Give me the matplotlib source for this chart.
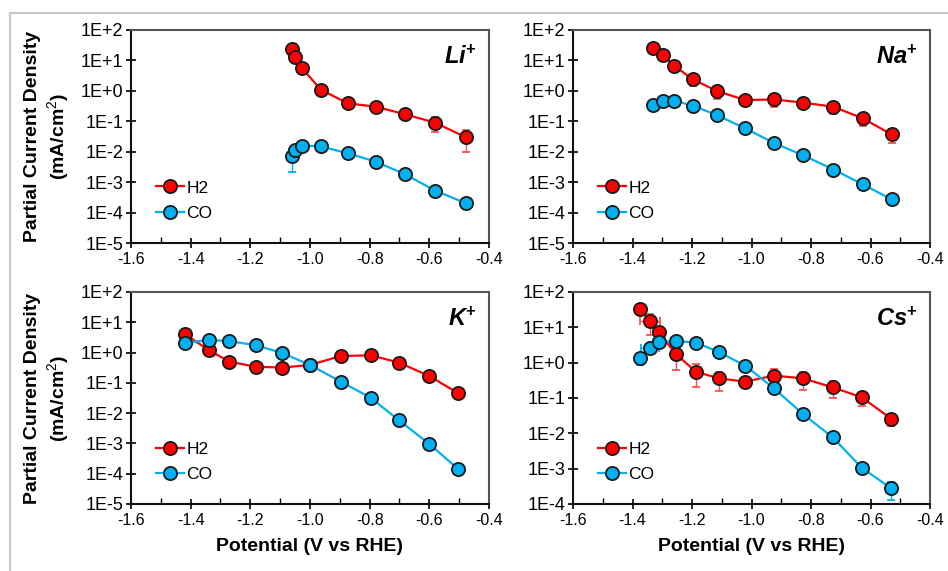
import matplotlib
matplotlib.use('Agg')
import matplotlib.pyplot as plt
from matplotlib.lines import Line2D
from matplotlib.ticker import FixedLocator, FuncFormatter, LogLocator, MultipleLocator, NullFormatter
import numpy as np

plt.rcParams['font.family'] = ['Liberation Sans', 'DejaVu Sans']
plt.rcParams['axes.unicode_minus'] = False
plt.rcParams['mathtext.fontset'] = 'custom'
plt.rcParams['mathtext.rm'] = 'Liberation Sans'
plt.rcParams['mathtext.it'] = 'Liberation Sans:italic'
plt.rcParams['mathtext.bf'] = 'Liberation Sans:bold'
plt.rcParams['mathtext.bfit'] = 'Liberation Sans:italic:bold'

# Li+
li_v = [-1.061, -1.050, -1.026, -0.964, -0.874, -0.779, -0.681, -0.581, -0.478]
li_h2 = [23, 12.6, 5.5, 1.1, 0.39, 0.30, 0.17, 0.09, 0.03]
li_h2_err = [2, 1.5, 0.8, 0.15, 0.06, 0.05, 0.04, 0.047, 0.02]
li_co = [0.0072, 0.0114, 0.016, 0.015, 0.0089, 0.0047, 0.0018, 0.00053, 0.000204]
li_co_err = [0.005, 0.002, 0.002, 0.001, 0.001, 0.0006, 0.0004, 0.00006, 0.00002]

# Na+
na_v = [-1.330, -1.299, -1.260, -1.198, -1.117, -1.022, -0.923, -0.826, -0.725, -0.626, -0.529]
na_h2 = [26, 15, 6.7, 2.4, 1.0, 0.50, 0.52, 0.41, 0.30, 0.125, 0.037]
na_h2_err = [2, 1.5, 1.0, 0.95, 0.48, 0.18, 0.23, 0.08, 0.12, 0.055, 0.017]
na_co = [0.35, 0.48, 0.47, 0.33, 0.16, 0.059, 0.019, 0.0076, 0.0026, 0.00085, 0.00027]
na_co_err = [0.03, 0.04, 0.04, 0.03, 0.02, 0.006, 0.002, 0.0008, 0.0003, 0.0001, 0.00009]

# K+
k_v = [-1.418, -1.339, -1.270, -1.182, -1.093, -1.000, -0.897, -0.796, -0.703, -0.601, -0.504]
k_h2 = [4.0, 1.2, 0.50, 0.34, 0.32, 0.39, 0.77, 0.81, 0.47, 0.17, 0.046]
k_h2_err = [0.2, 0.06, 0.03, 0.02, 0.02, 0.02, 0.04, 0.04, 0.03, 0.01, 0.003]
k_co = [2.1, 2.6, 2.4, 1.74, 0.97, 0.39, 0.11, 0.032, 0.0059, 0.00098, 0.000144]
k_co_err = [0.1, 0.13, 0.12, 0.09, 0.05, 0.02, 0.006, 0.002, 0.0003, 0.00005, 0.00001]

# Cs+
cs_v = [-1.375, -1.341, -1.311, -1.255, -1.186, -1.110, -1.022, -0.925, -0.827, -0.727, -0.630, -0.531]
cs_h2 = [32, 15, 7.4, 1.76, 0.55, 0.36, 0.29, 0.43, 0.36, 0.20, 0.105, 0.026]
cs_h2_err = [3, 9, 3, 1.14, 0.34, 0.2, 0.1, 0.23, 0.19, 0.1, 0.046, 0.01]
cs_h2_verr = [0, 0.035, 0.02, 0, 0, 0, 0, 0, 0, 0, 0, 0]
cs_co = [1.33, 2.55, 3.8, 4.1, 3.7, 2.0, 0.83, 0.19, 0.035, 0.0077, 0.00107, 0.00028]
cs_co_err = [0.48, 0.3, 0.3, 0.3, 0.3, 0.2, 0.08, 0.02, 0.003, 0.0007, 0.0001, 0.00015]
cs_co_verr = [0, 0.03, 0.02, 0, 0, 0, 0, 0, 0, 0, 0, 0]

red = '#FF0000'
blue = '#00B0F0'

fig = plt.figure(figsize=(9.48, 5.71), dpi=100)
W, H = 948, 571

def make_ax(left, top, right, bottom):
    return fig.add_axes([left / W, 1 - bottom / H, (right - left) / W, (bottom - top) / H])

panels = [
    (make_ax(131, 30, 489, 243), li_v, li_h2, li_h2_err, None, li_co, li_co_err, None, r'$\mathbfit{Li}^{\mathbf{+}}$', -5, True, False),
    (make_ax(573, 30, 930, 243), na_v, na_h2, na_h2_err, None, na_co, na_co_err, None, r'$\mathbfit{Na}^{\mathbf{+}}$', -5, False, False),
    (make_ax(131, 292, 489, 504), k_v, k_h2, k_h2_err, None, k_co, k_co_err, None, r'$\mathbfit{K}^{\mathbf{+}}$', -5, True, True),
    (make_ax(573, 292, 930, 504), cs_v, cs_h2, cs_h2_err, cs_h2_verr, cs_co, cs_co_err, cs_co_verr, r'$\mathbfit{Cs}^{\mathbf{+}}$', -4, False, True),
]

marker_style = dict(marker='o', ms=9.5, mec='#1a1a1a', mew=1.3)

for ax, v, h2, h2e, h2x, co, coe, cox, lab, ylow, ylab, xlab in panels:
    ax.errorbar(v, h2, yerr=h2e, xerr=h2x, ls='-', color=red, lw=1.6, mfc=red,
                ecolor='#ff5050', elinewidth=1, capsize=3, **marker_style)
    ax.errorbar(v, co, yerr=coe, xerr=cox, ls='-', color=blue, lw=1.6, mfc=blue,
                ecolor=blue, elinewidth=1, capsize=3, **marker_style)
    ax.set_yscale('log')
    ax.set_ylim(10.0 ** ylow, 100)
    ax.set_xlim(-1.6, -0.4)
    ax.yaxis.set_major_locator(FixedLocator([10.0 ** k for k in range(ylow, 3)]))
    ax.yaxis.set_major_formatter(FuncFormatter(lambda y, p: '1E%+d' % int(round(np.log10(y)))))
    ax.yaxis.set_minor_locator(LogLocator(base=10, subs=np.arange(2, 10)))
    ax.yaxis.set_minor_formatter(NullFormatter())
    ax.xaxis.set_major_locator(MultipleLocator(0.2))
    ax.xaxis.set_major_formatter(FuncFormatter(lambda x, p: '%.1f' % x))
    ax.xaxis.set_minor_locator(MultipleLocator(0.1))
    ax.tick_params(axis='y', which='major', direction='inout', length=7, width=1.2, labelsize=13, pad=2)
    ax.tick_params(axis='y', which='minor', direction='in', length=3, width=0.8)
    ax.tick_params(axis='x', which='major', direction='inout', length=7, width=1.2, labelsize=11.5, pad=3)
    ax.tick_params(axis='x', which='minor', direction='in', length=4, width=1)
    for side in ['left', 'bottom']:
        ax.spines[side].set_color('#111111')
        ax.spines[side].set_linewidth(1.5)
    for side in ['top', 'right']:
        ax.spines[side].set_color('#555555')
        ax.spines[side].set_linewidth(1.5)
    ax.text(0.965, 0.925, lab, transform=ax.transAxes, ha='right', va='top', fontsize=17)
    handles = [Line2D([], [], color=red, lw=1.6, mfc=red, **marker_style),
               Line2D([], [], color=blue, lw=1.6, mfc=blue, **marker_style)]
    ax.legend(handles, ['H2', 'CO'], loc='lower left', bbox_to_anchor=(0.05, 0.07), frameon=False,
              fontsize=12.5, handlelength=1.6, handletextpad=0.15, labelspacing=0.6, borderaxespad=0)
    if ylab:
        ax.set_ylabel('Partial Current Density\n(mA/cm$^2$)', fontsize=14, fontweight='bold', labelpad=7)
    if xlab:
        ax.set_xlabel('Potential (V vs RHE)', fontsize=14, fontweight='bold', labelpad=7)

# light frame round the figure
fig.add_artist(Line2D([10 / W, 1], [1 - 13 / H, 1 - 13 / H], transform=fig.transFigure, color='#c8c8c8', lw=1.5))
fig.add_artist(Line2D([10 / W, 10 / W], [0, 1 - 13 / H], transform=fig.transFigure, color='#c8c8c8', lw=1.5))

fig.savefig('out.png', dpi=100)
